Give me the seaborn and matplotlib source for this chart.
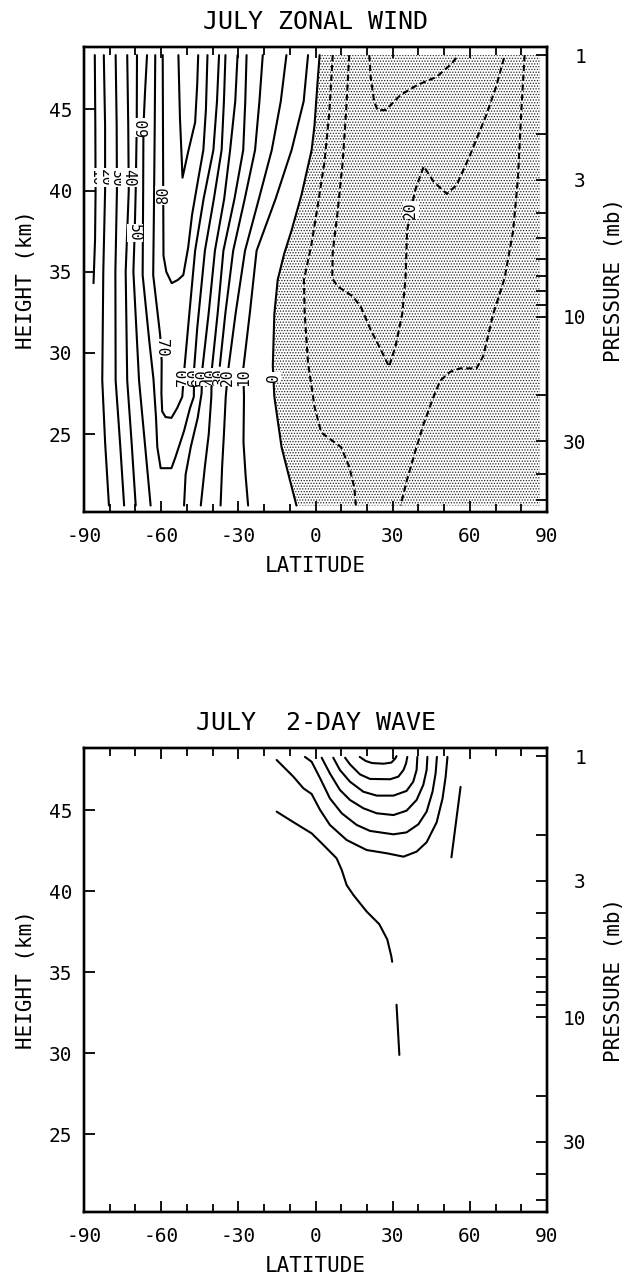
import matplotlib
matplotlib.use('Agg')

import numpy as np
import pandas as pd
import seaborn as sns
import matplotlib.pyplot as plt


# ---- JULY ZONAL WIND: contour vertices, (latitude, height km)
# westerly contours on the poleward side
wind_10w = [(-85.8, 48.35), (-85.6, 44.0), (-85.5, 40.0), (-85.7, 37.0), (-86.3, 34.3)]
wind_20w = [(-82.3, 48.35), (-81.8, 44.0), (-81.8, 40.0), (-82.5, 35.0), (-82.9, 28.3), (-81.8, 24.5), (-80.3, 20.6)]
wind_30w = [(-77.7, 48.35), (-77.3, 44.0), (-77.2, 40.0), (-77.8, 35.0), (-77.7, 28.3), (-76.0, 24.5), (-74.4, 20.6)]
wind_40w = [(-73.2, 48.35), (-72.8, 44.0), (-72.6, 40.0), (-73.8, 35.0), (-73.2, 28.3), (-71.5, 24.5), (-69.9, 20.6)]
wind_50w = [(-69.4, 48.35), (-69.5, 44.0), (-69.9, 40.0), (-70.3, 37.4), (-70.8, 35.0), (-68.6, 28.3),
            (-66.2, 24.2), (-64.1, 20.6)]
# jet core, closed at the bottom
wind_60 = [(-65.5, 48.35), (-66.3, 46.0), (-66.9, 43.9), (-67.0, 40.0), (-67.2, 34.8), (-64.6, 30.7),
           (-63.0, 28.4), (-62.0, 26.0), (-61.5, 24.2), (-60.2, 22.9), (-56.0, 22.9), (-54.4, 23.6),
           (-51.1, 25.2), (-48.8, 26.6), (-47.3, 27.3), (-47.2, 29.0), (-46.0, 31.5), (-43.0, 36.3),
           (-39.5, 39.5), (-36.5, 42.5), (-35.6, 45.5), (-35.0, 48.35)]
wind_70 = [(-62.3, 48.35), (-62.5, 44.0), (-62.8, 39.0), (-63.1, 34.8), (-60.4, 31.1), (-59.8, 29.5),
           (-59.9, 27.5), (-59.6, 26.4), (-58.3, 26.05), (-56.0, 26.0), (-53.8, 26.6), (-51.8, 27.3),
           (-51.0, 29.0), (-49.0, 32.5), (-46.8, 36.3), (-43.5, 39.5), (-39.7, 42.5), (-38.3, 45.5),
           (-37.5, 48.35)]
wind_80 = [(-59.4, 48.35), (-59.3, 44.0), (-59.2, 39.7), (-59.1, 36.0), (-58.0, 35.0), (-55.9, 34.3),
           (-53.5, 34.5), (-51.4, 34.8), (-49.5, 36.5), (-48.0, 38.5), (-45.5, 40.8), (-43.6, 42.5),
           (-42.6, 45.0), (-42.0, 48.35)]
wind_90 = [(-53.3, 48.35), (-52.7, 44.5), (-51.7, 40.8), (-49.5, 42.4), (-46.8, 44.2), (-46.0, 46.5),
           (-45.6, 48.35)]
# equatorward side of the jet
wind_50e = [(-51.1, 20.6), (-50.5, 22.5), (-48.5, 24.2), (-45.8, 26.0), (-44.3, 27.5), (-44.0, 29.0),
            (-41.5, 32.5), (-39.1, 36.3), (-35.5, 39.5), (-33.2, 42.5), (-31.2, 45.5), (-30.3, 48.35)]
wind_40e = [(-44.6, 20.6), (-43.0, 23.0), (-41.5, 25.0), (-40.5, 27.3), (-40.3, 29.0), (-38.0, 32.5),
            (-35.8, 36.3), (-31.5, 39.5), (-28.1, 42.5), (-27.3, 45.5), (-26.8, 48.35)]
wind_30e = [(-20.5, 48.35), (-21.8, 45.5), (-23.5, 42.5), (-27.5, 39.5), (-32.0, 36.3), (-35.0, 32.5),
            (-37.2, 29.2)]
wind_20e = [(-11.3, 48.35), (-13.5, 45.5), (-17.0, 42.5), (-22.0, 39.5), (-27.4, 36.3), (-31.0, 32.5),
            (-33.9, 29.0), (-34.9, 27.3), (-35.6, 25.0), (-36.3, 23.0), (-36.9, 20.6)]
wind_10e = [(-2.9, 48.35), (-4.6, 45.5), (-9.3, 42.5), (-15.5, 39.5), (-22.9, 36.3), (-25.5, 32.5),
            (-28.1, 29.0), (-27.8, 27.3), (-28.0, 24.5), (-27.2, 22.5), (-26.2, 20.6)]
wind_00 = [(1.6, 48.35), (0.9, 46.9), (-0.4, 44.0), (-1.5, 42.5), (-5.5, 39.7), (-9.4, 37.5), (-12.2, 36.1),
           (-14.7, 34.5), (-16.0, 32.4), (-16.6, 29.2), (-16.0, 27.3), (-13.2, 24.2), (-10.0, 22.2),
           (-7.4, 20.6)]
# easterly (dashed) contours
wind_m10a = [(6.7, 48.35), (5.4, 44.86), (3.5, 41.78), (0.9, 39.11), (-1.6, 36.65), (-4.5, 34.5),
             (-4.2, 32.4), (-2.9, 29.4), (-0.4, 26.7), (2.2, 25.1), (9.9, 24.2), (13.1, 23.0),
             (15.1, 21.7), (15.7, 20.6)]
wind_m20 = [(13.1, 48.35), (11.9, 44.9), (10.6, 41.8), (8.6, 38.7), (6.7, 36.2), (6.5, 34.6), (8.6, 34.1),
            (14.4, 33.5), (17.6, 32.85), (21.5, 31.4), (25.4, 30.2), (28.6, 29.15), (31.1, 30.4),
            (33.7, 32.4), (35.0, 34.6), (35.6, 37.5), (36.9, 38.7), (38.9, 40.1), (42.1, 41.5),
            (45.9, 40.55), (51.1, 39.8), (54.9, 40.35), (60.1, 42.2), (66.5, 44.7), (70.4, 46.5),
            (72.9, 47.95), (73.6, 48.35)]
wind_m30 = [(20.9, 48.35), (21.5, 46.92), (22.8, 45.5), (24.1, 44.96), (27.3, 44.96), (33.1, 45.9),
            (39.5, 46.5), (47.2, 47.02), (53.0, 47.84), (55.6, 48.35)]
wind_m10b = [(81.3, 48.35), (80.0, 44.86), (78.7, 40.76), (76.8, 37.47), (73.5, 34.6), (69.1, 32.4),
             (65.2, 29.8), (62.6, 29.05), (56.2, 29.05), (52.4, 28.84), (48.5, 28.3), (45.9, 27.3),
             (42.1, 25.65), (38.9, 24.0), (35.6, 22.2), (33.1, 20.6)]
shade_edge_lat = 87.3   # easterly stipple runs from the zero line to the edge of the data

# contour labels
wind_lab_text = ['10', '20', '30', '40', '60', '80', '50', '70',
                 '70', '60', '50', '40', '30', '20', '10', '0', '20']
wind_lab_lat = [-85.5, -81.8, -77.2, -72.6, -66.9, -59.2, -70.2, -60.0,
                -51.2, -47.2, -44.1, -40.4, -37.3, -34.2, -27.9, -16.4, 37.0]
wind_lab_z = [40.8, 40.8, 40.8, 40.8, 43.9, 39.7, 37.4, 30.3,
              28.5, 28.5, 28.5, 28.5, 28.5, 28.5, 28.5, 28.5, 38.8]
wind_lab_rot = [270, 270, 270, 270, 90, 90, 270, 270,
                90, 90, 90, 90, 90, 90, 90, 90, 90]

# ---- JULY 2-DAY WAVE contours
wave_1 = [(17.2, 48.3), (19.5, 48.05), (22.0, 47.92), (26.5, 47.88), (29.5, 47.95), (31.0, 48.2), (31.5, 48.35)]
wave_2 = [(11.5, 48.25), (13.4, 47.84), (17.3, 47.22), (21.2, 46.94), (29.0, 46.92), (32.2, 47.08),
          (34.2, 47.49), (35.2, 47.9), (35.7, 48.3)]
wave_3 = [(6.9, 48.25), (9.5, 47.49), (13.4, 46.77), (18.6, 46.15), (23.8, 45.91), (30.3, 45.91),
          (35.4, 46.2), (38.0, 46.77), (39.3, 47.49), (39.6, 48.3)]
wave_4 = [(2.4, 48.25), (5.6, 47.28), (9.5, 46.26), (13.4, 45.64), (18.6, 45.13), (23.8, 44.82),
          (30.3, 44.71), (35.4, 44.98), (39.3, 45.64), (41.9, 46.57), (43.2, 47.49), (43.5, 48.3)]
wave_5 = [(-4.1, 48.3), (-1.5, 48.0), (1.8, 46.98), (5.6, 45.74), (10.2, 44.82), (16.0, 44.1), (21.2, 43.73),
          (30.3, 43.52), (35.4, 43.64), (40.0, 44.14), (43.2, 44.92), (45.5, 46.15), (46.7, 47.29),
          (47.2, 48.3)]
wave_6 = [(-15.1, 48.11), (-8.6, 47.08), (-4.7, 46.36), (-1.5, 46.01), (1.8, 45.02), (5.6, 44.1),
          (12.1, 43.17), (19.9, 42.55), (27.7, 42.35), (34.2, 42.14), (39.3, 42.45), (43.2, 43.03),
          (47.1, 44.26), (49.4, 45.74), (50.6, 47.08), (51.3, 48.3)]
wave_7 = [(-15.1, 44.92), (-9.9, 44.4), (-4.7, 43.89), (-1.5, 43.58), (2.4, 42.97), (8.2, 42.04),
          (10.2, 41.32), (12.1, 40.39), (14.7, 39.78), (19.9, 38.75), (24.8, 37.97), (27.9, 37.03),
          (29.5, 35.97), (29.8, 35.65)]
wave_8 = [(56.4, 46.45), (52.85, 42.1)]
wave_9 = [(31.5, 33.0), (32.6, 29.9)]

# axes
lat_ticks = [-90, -60, -30, 0, 30, 60, 90]
height_ticks = [25, 30, 35, 40, 45]
pressure_ticks = [1, 2, 3, 4, 5, 6, 7, 8, 9, 10, 20, 30, 40, 50]
pressure_labelled = [1, 3, 10, 30]
scale_height = 7.0


def long_frame(lines):
    rows = []
    for name, (pts, kind) in lines.items():
        for i, (lat, z) in enumerate(pts):
            rows.append({'line': name, 'kind': kind, 'order': i, 'lat': lat, 'z': z})
    return pd.DataFrame(rows)


wind_df = long_frame({
    '10w': (wind_10w, 'solid'), '20w': (wind_20w, 'solid'), '30w': (wind_30w, 'solid'),
    '40w': (wind_40w, 'solid'), '50w': (wind_50w, 'solid'), '60': (wind_60, 'solid'),
    '70': (wind_70, 'solid'), '80': (wind_80, 'solid'), '90': (wind_90, 'solid'),
    '50e': (wind_50e, 'solid'), '40e': (wind_40e, 'solid'), '30e': (wind_30e, 'solid'),
    '20e': (wind_20e, 'solid'), '10e': (wind_10e, 'solid'), '0': (wind_00, 'solid'),
    '-10a': (wind_m10a, 'dashed'), '-20': (wind_m20, 'dashed'), '-30': (wind_m30, 'dashed'),
    '-10b': (wind_m10b, 'dashed'),
})
wave_df = long_frame({
    'c1': (wave_1, 'solid'), 'c2': (wave_2, 'solid'), 'c3': (wave_3, 'solid'), 'c4': (wave_4, 'solid'),
    'c5': (wave_5, 'solid'), 'c6': (wave_6, 'solid'), 'c7': (wave_7, 'solid'), 'c8': (wave_8, 'solid'),
    'c9': (wave_9, 'solid'),
})

sns.set_theme(style='ticks')
plt.rcParams['font.family'] = ['DejaVu Sans Mono']
plt.rcParams['axes.unicode_minus'] = False
plt.rcParams['hatch.linewidth'] = 0.6
for key in ['text.color', 'axes.labelcolor', 'xtick.color', 'ytick.color', 'axes.edgecolor']:
    plt.rcParams[key] = 'black'


def z_of_p(p):
    return scale_height * np.log(1000.0 / np.asarray(p, dtype=float))


def dress(ax, title):
    ax.set_xlim(-90, 90)
    ax.set_ylim(20.2, 48.85)
    ax.set_xticks(lat_ticks)
    ax.set_xticklabels([str(v) for v in lat_ticks])
    ax.set_xticks(np.arange(-90, 91, 10), minor=True)
    ax.set_yticks(height_ticks)
    ax.set_yticklabels([str(v) for v in height_ticks])
    ax.tick_params(axis='x', which='both', direction='in', top=True, bottom=True, width=1.3,
                   labelsize=14, pad=11, colors='black')
    ax.tick_params(axis='y', which='both', direction='in', left=True, right=False, width=1.3,
                   labelsize=14, pad=8.5, colors='black')
    ax.tick_params(which='major', length=8)
    ax.tick_params(which='minor', length=5.5)
    for s in ax.spines.values():
        s.set_linewidth(1.7)
        s.set_color('black')
    ax.set_xlabel('LATITUDE', fontsize=15)
    ax.set_ylabel('HEIGHT (km)', fontsize=15)
    ax.xaxis.set_label_coords(0.5, -0.0955)
    ax.yaxis.set_label_coords(-0.1045, 0.5)
    ax.set_title(title, fontsize=18, pad=13)

    rax = ax.twinx()
    rax.set_ylim(ax.get_ylim())
    rax.set_yticks(z_of_p(pressure_labelled))
    rax.set_yticklabels([str(p) for p in pressure_labelled])
    minor = [p for p in pressure_ticks if p not in pressure_labelled]
    rax.set_yticks(z_of_p(minor), minor=True)
    rax.tick_params(axis='y', which='both', direction='in', right=True, left=False, width=1.3,
                    length=8, labelsize=14, pad=28, colors='black')
    for lbl in rax.get_yticklabels():
        lbl.set_horizontalalignment('right')
    for s in rax.spines.values():
        s.set_linewidth(1.7)
        s.set_color('black')
    rax.set_ylabel('PRESSURE (mb)', fontsize=15)
    rax.yaxis.set_label_coords(1.1227, 0.5)
    return rax


fig = plt.figure(figsize=(6.26, 12.75), dpi=100)
ax_top = fig.add_axes([84 / 626, 1 - 512 / 1275, 463 / 626, 465 / 1275])
ax_bot = fig.add_axes([84 / 626, 1 - 1212 / 1275, 463 / 626, 464 / 1275])

# easterlies stippled
zero_lat = [p[0] for p in wind_00]
zero_z = [p[1] for p in wind_00]
ax_top.fill_betweenx(zero_z, zero_lat, shade_edge_lat, facecolor='white', edgecolor='#222222',
                     hatch='......', linewidth=0, zorder=0)

sns.lineplot(data=wind_df, x='lat', y='z', units='line', style='kind',
             dashes={'solid': '', 'dashed': (3.0, 1.7)}, estimator=None, sort=False,
             color='black', linewidth=1.5, legend=False, ax=ax_top)

for t, la, z, r in zip(wind_lab_text, wind_lab_lat, wind_lab_z, wind_lab_rot):
    ax_top.text(la, z, t, rotation=r, ha='center', va='center', fontsize=10.5, zorder=5,
                bbox=dict(facecolor='white', edgecolor='none', pad=0.3))

sns.lineplot(data=wave_df, x='lat', y='z', units='line', estimator=None, sort=False,
             color='black', linewidth=1.5, legend=False, ax=ax_bot)

dress(ax_top, 'JULY ZONAL WIND')
dress(ax_bot, 'JULY  2-DAY WAVE')

fig.savefig('out.png', dpi=100)
